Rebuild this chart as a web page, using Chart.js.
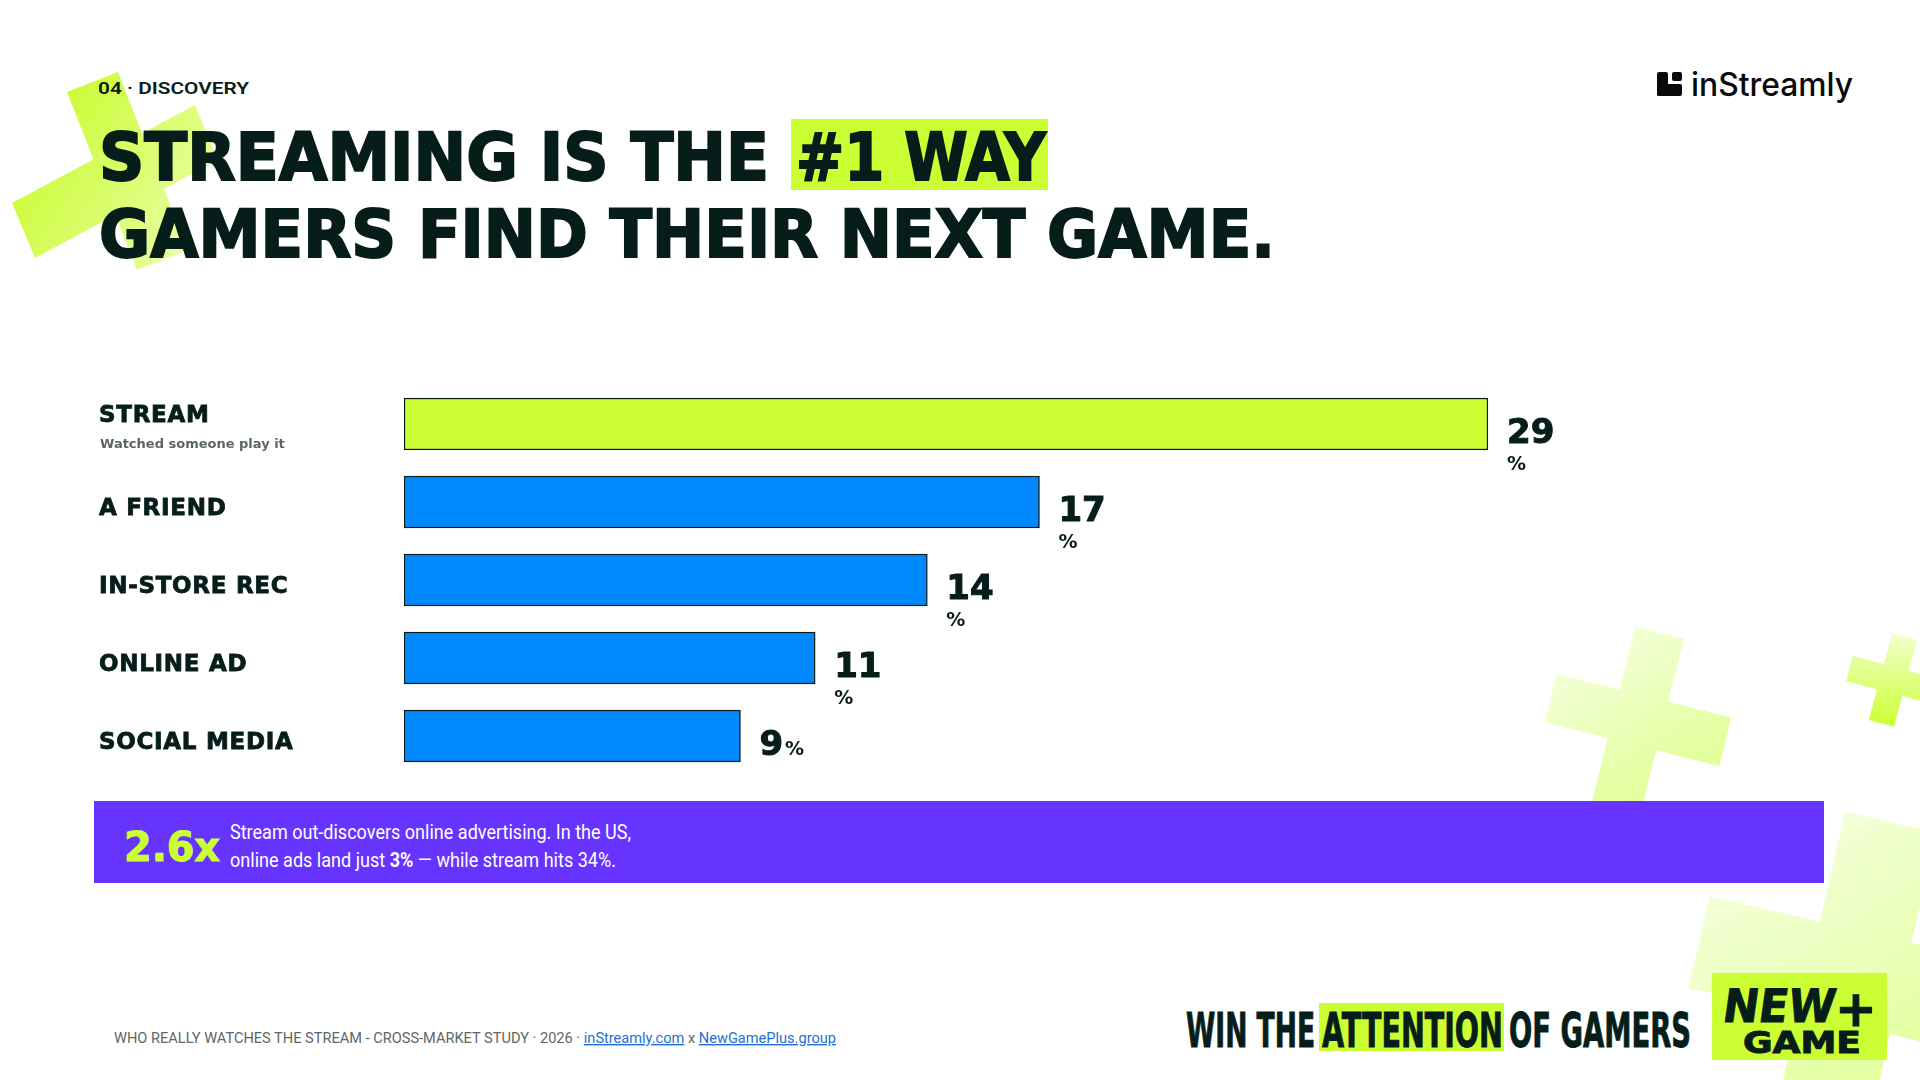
<!DOCTYPE html>
<html lang="en">
<head>
<meta charset="utf-8">
<title>Streaming is the #1 way gamers find their next game</title>
<script src="https://cdn.jsdelivr.net/npm/chart.js@4.4.1/dist/chart.umd.min.js"></script>
<style>
  html, body { margin: 0; padding: 0; background: #ffffff; }
  #page { position: relative; width: 1920px; height: 1080px; overflow: hidden; background: #ffffff; }
  #deco { position: absolute; left: 0; top: 0; }
  #chartBox { position: absolute; left: 98px; top: 385px; width: 1600px; height: 390px; }
</style>
</head>
<body>
<div id="page">
<svg id="deco" width="1920" height="1080" viewBox="0 0 1920 1080">
  <defs>
    <linearGradient id="gTL" gradientUnits="userSpaceOnUse" x1="20" y1="130" x2="215" y2="250">
      <stop offset="0" stop-color="#c9fb2c"/>
      <stop offset="1" stop-color="#ecffb0"/>
    </linearGradient>
    <linearGradient id="gSoft" x1="0" y1="0" x2="1" y2="1">
      <stop offset="0" stop-color="#f8ffe8"/>
      <stop offset="1" stop-color="#dcff85"/>
    </linearGradient>
    <linearGradient id="gSmall" x1="0.2" y1="0" x2="0.4" y2="1">
      <stop offset="0" stop-color="#f3ffd4"/>
      <stop offset="1" stop-color="#cdff3a"/>
    </linearGradient>
  </defs>

  <!-- background crosses -->
  <polygon points="67,92 118,72 188,250 137,270" fill="url(#gTL)"/>
  <polygon points="12,203 195,105 218,160 35,258" fill="url(#gTL)"/>
  <path d="M-25 -90 H25 V-25 H90 V25 H25 V90 H-25 V25 H-90 V-25 H-25 Z" transform="translate(1638,720) rotate(14)" fill="url(#gSoft)"/>
  <path d="M-13 -45 H13 V-13 H45 V13 H13 V45 H-13 V13 H-45 V-13 H-13 Z" transform="translate(1893,680) rotate(15)" fill="url(#gSmall)"/>
  <path d="M-47 -160 H47 V-47 H160 V47 H47 V160 H-47 V47 H-160 V-47 H-47 Z" transform="translate(1855,978) rotate(13)" fill="url(#gSoft)"/>

  <!-- header -->
  <text x="98" y="94" font-family="Roboto" font-weight="600" font-size="17" fill="#061d1a" textLength="151" lengthAdjust="spacingAndGlyphs">04 · DISCOVERY</text>
  <rect x="791" y="119" width="257" height="71" fill="#ccff33"/>
  <g font-family="DejaVu Sans" font-weight="700" font-size="66" fill="#061d1a" stroke="#061d1a" stroke-width="2" lengthAdjust="spacingAndGlyphs">
    <text x="99" y="180" textLength="670" lengthAdjust="spacingAndGlyphs">STREAMING IS THE</text>
    <text x="796" y="180" textLength="250" lengthAdjust="spacingAndGlyphs">#1 WAY</text>
    <text x="99" y="257" textLength="1176" lengthAdjust="spacingAndGlyphs">GAMERS FIND THEIR NEXT GAME.</text>
  </g>

  <!-- logo -->
  <g fill="#0a0a0a">
    <rect x="1657" y="72" width="11" height="24" rx="2"/>
    <rect x="1657" y="84" width="25" height="12" rx="2"/>
    <rect x="1672" y="72" width="10" height="9" rx="2"/>
  </g>
  <text x="1691" y="96" font-family="Inter" font-weight="500" font-size="32" fill="#0a0a0a" textLength="162" lengthAdjust="spacingAndGlyphs">inStreamly</text>

  <!-- callout -->
  <rect x="94" y="801" width="1730" height="82" fill="#6633ff"/>
  <text x="124" y="861" font-family="DejaVu Sans" font-weight="700" font-size="40" fill="#ccff33" stroke="#ccff33" stroke-width="1" textLength="96" lengthAdjust="spacingAndGlyphs">2.6x</text>
  <text x="230" y="839" font-family="Roboto" font-size="20" fill="#ffffff" textLength="401" lengthAdjust="spacingAndGlyphs">Stream out-discovers online advertising. In the US,</text>
  <text x="230" y="867" font-family="Roboto" font-size="20" fill="#ffffff" textLength="386" lengthAdjust="spacingAndGlyphs">online ads land just <tspan font-weight="700">3%</tspan> — while stream hits 34%.</text>

  <!-- footer -->
  <text x="114" y="1043" font-family="Roboto" font-size="14" fill="#5d6766" textLength="722" lengthAdjust="spacingAndGlyphs">WHO REALLY WATCHES THE STREAM - CROSS-MARKET STUDY · 2026 · <tspan fill="#1f6fd6" text-decoration="underline">inStreamly.com</tspan> x <tspan fill="#1f6fd6" text-decoration="underline">NewGamePlus.group</tspan></text>

  <rect x="1319" y="1003" width="185" height="48" fill="#ccff33"/>
  <g font-family="DejaVu Sans" font-weight="700" font-size="48" fill="#061d1a" stroke="#061d1a" stroke-width="1">
    <text x="1186" y="1047" textLength="129" lengthAdjust="spacingAndGlyphs">WIN THE</text>
    <text x="1322" y="1047" textLength="181" lengthAdjust="spacingAndGlyphs">ATTENTION</text>
    <text x="1509" y="1047" textLength="182" lengthAdjust="spacingAndGlyphs">OF GAMERS</text>
  </g>

  <!-- NewGame+ badge -->
  <rect x="1712" y="973" width="175" height="87" fill="#ccff33"/>
  <g font-family="DejaVu Sans" font-weight="700" fill="#061d1a" stroke="#061d1a" stroke-width="1">
    <text x="1722" y="1022" font-size="46" textLength="112" lengthAdjust="spacingAndGlyphs" transform="skewX(-8) translate(143,0)">NEW</text>
    <text x="1743" y="1053" font-size="30" textLength="118" lengthAdjust="spacingAndGlyphs">GAME</text>
    <text x="1835" y="1026" font-size="50">+</text>
  </g>
</svg>

<div id="chartBox"><canvas id="discoveryChart"></canvas></div>
</div>

<script>
// How gamers found their last game (% of respondents)
const channels = ['STREAM', 'A FRIEND', 'IN-STORE REC', 'ONLINE AD', 'SOCIAL MEDIA'];
const channelNotes = ['Watched someone play it', '', '', '', ''];
const sharePct = [29, 17, 14, 11, 9];

const INK = '#061d1a';
const LIME = '#ccff33';
const BLUE = '#0088ff';

// labels on the left + value labels at the bar ends
const barLabels = {
    id: 'barLabels',
    afterDatasetsDraw(chart) {
        const ctx = chart.ctx;
        const bars = chart.getDatasetMeta(0).data;
        const left = chart.chartArea.left - 305;
        ctx.save();
        ctx.fillStyle = INK;
        ctx.strokeStyle = INK;
        ctx.textAlign = 'left';
        ctx.textBaseline = 'alphabetic';
        bars.forEach(function(bar, i) {
            const p = bar.getProps(['x', 'y'], true);

            // category
            ctx.letterSpacing = '0.7px';
            ctx.font = '700 23px "DejaVu Sans"';
            ctx.lineWidth = 0.8;
            const yCat = channelNotes[i] ? p.y - 2 : p.y + 13;
            ctx.fillText(channels[i], left, yCat);
            ctx.strokeText(channels[i], left, yCat);
            if (channelNotes[i]) {
                ctx.letterSpacing = '0px';
                ctx.font = '700 13px "DejaVu Sans"';
                ctx.fillStyle = '#5b6664';
                ctx.fillText(channelNotes[i], left + 1, p.y + 24);
                ctx.fillStyle = INK;
            }

            // value
            ctx.letterSpacing = '0px';
            const num = String(sharePct[i]);
            const vx = p.x + 19;
            const vy = p.y + 19;
            ctx.font = '700 34px "DejaVu Sans"';
            ctx.lineWidth = 1;
            ctx.fillText(num, vx, vy);
            ctx.strokeText(num, vx, vy);
            const w = ctx.measureText(num).width;
            ctx.font = '700 19px "DejaVu Sans"';
            if (sharePct[i] >= 10) {
                ctx.fillText('%', vx, vy + 27);
            } else {
                ctx.fillText('%', vx + w + 2, vy);
            }
        });
        ctx.restore();
    }
};

new Chart(document.getElementById('discoveryChart'), {
    type: 'bar',
    data: {
        labels: channels,
        datasets: [{
            data: sharePct,
            backgroundColor: (c) => c.dataIndex === 0 ? LIME : BLUE,
            borderColor: '#0b1d1b',
            borderWidth: 1.5,
            borderSkipped: false,
            barThickness: 52
        }]
    },
    options: {
        indexAxis: 'y',
        responsive: true,
        maintainAspectRatio: false,
        animation: false,
        layout: { padding: { left: 306, right: 210, top: 0, bottom: 0 } },
        scales: {
            x: { min: 0, max: 29, display: false },
            y: { display: false }
        },
        plugins: {
            legend: { display: false },
            tooltip: { enabled: false }
        }
    },
    plugins: [barLabels]
});
</script>
</body>
</html>
